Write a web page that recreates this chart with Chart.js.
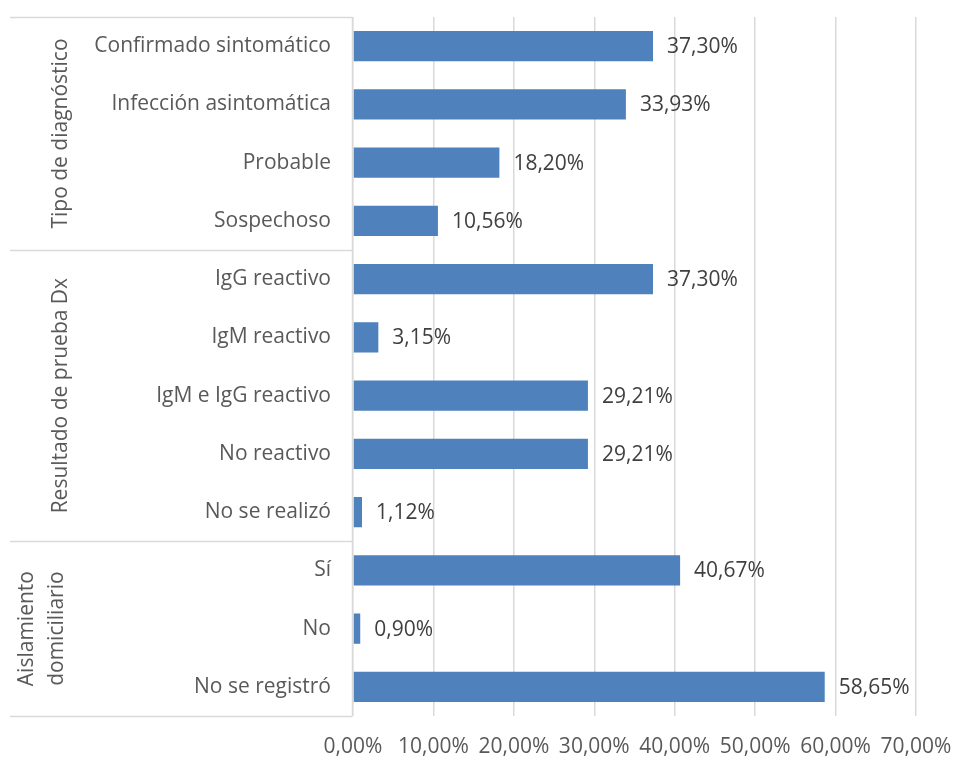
<!DOCTYPE html>
<html lang="es">
<head>
<meta charset="utf-8">
<script src="https://cdn.jsdelivr.net/npm/chart.js@4/dist/chart.umd.min.js"></script>
<style>
  html, body { margin: 0; padding: 0; background: #ffffff; }
  #wrap { position: relative; width: 957px; height: 758px; }
</style>
</head>
<body>
<div id="wrap"><canvas id="chart" width="957" height="758"></canvas></div>
<script>
// Categories (top to bottom) and their percentage values
const categories = [
  'Confirmado sintomático', 'Infección asintomática', 'Probable', 'Sospechoso',
  'IgG reactivo', 'IgM reactivo', 'IgM e IgG reactivo', 'No reactivo', 'No se realizó',
  'Sí', 'No', 'No se registró'
];
const values = [37.30, 33.93, 18.20, 10.56, 37.30, 3.15, 29.21, 29.21, 1.12, 40.67, 0.90, 58.65];

// Outer grouping of the categories
const groupNames = [['Tipo de diagnóstico'], ['Resultado de prueba Dx'], ['Aislamiento', 'domiciliario']];
const groupSizes = [4, 5, 3];

// Value axis ticks
const tickValues = [0, 10, 20, 30, 40, 50, 60, 70];

const FONT = '"Open Sans", "Noto Sans", sans-serif';
const FONT_SIZE = 21;
const LABEL_COLOR = '#595959';
const VALUE_COLOR = '#404040';
const LINE_COLOR = '#d9d9d9';

const fmtPct = v => v.toFixed(2).replace('.', ',') + '%';

// Value labels at the end of each bar
const valueLabels = {
  id: 'valueLabels',
  afterDatasetsDraw(chart) {
    const ctx = chart.ctx;
    const meta = chart.getDatasetMeta(0);
    ctx.save();
    ctx.font = `${FONT_SIZE}px ${FONT}`;
    ctx.fillStyle = VALUE_COLOR;
    ctx.textAlign = 'left';
    ctx.textBaseline = 'middle';
    meta.data.forEach((bar, i) => {
      ctx.fillText(fmtPct(values[i]), bar.x + 14, bar.y + 1);
    });
    ctx.restore();
  }
};

// Group boxes and rotated group titles on the category axis
const groupAxis = {
  id: 'groupAxis',
  afterDraw(chart) {
    const ctx = chart.ctx;
    const y = chart.scales.y;
    const band = (y.bottom - y.top) / categories.length;
    const left = 10;
    const right = chart.chartArea.left - 0.5;
    ctx.save();
    ctx.strokeStyle = LINE_COLOR;
    ctx.lineWidth = 1.5;
    const bounds = [0];
    groupSizes.forEach(n => bounds.push(bounds[bounds.length - 1] + n));
    bounds.forEach(k => {
      const py = Math.round(y.top + k * band) + 0.5;
      ctx.beginPath();
      ctx.moveTo(left, py);
      ctx.lineTo(right, py);
      ctx.stroke();
    });
    ctx.beginPath();
    ctx.moveTo(right, y.top);
    ctx.lineTo(right, y.bottom);
    ctx.stroke();

    ctx.font = `${FONT_SIZE}px ${FONT}`;
    ctx.fillStyle = LABEL_COLOR;
    ctx.textAlign = 'center';
    ctx.textBaseline = 'middle';
    const lineGap = 30;
    groupNames.forEach((lines, g) => {
      const cy = y.top + (bounds[g] + bounds[g + 1]) / 2 * band;
      const cx = lines.length === 1 ? 61 : 27;
      lines.forEach((txt, j) => {
        ctx.save();
        ctx.translate(cx + j * lineGap, cy);
        ctx.rotate(-Math.PI / 2);
        ctx.fillText(txt, 0, 0);
        ctx.restore();
      });
    });
    ctx.restore();
  }
};

new Chart(document.getElementById('chart'), {
  type: 'bar',
  data: {
    labels: categories,
    datasets: [{
      data: values,
      backgroundColor: '#4f81bd',
      borderWidth: 0,
      barPercentage: 0.52,
      categoryPercentage: 1.0
    }]
  },
  options: {
    indexAxis: 'y',
    responsive: false,
    animation: false,
    layout: { padding: { top: 17, right: 41, left: 0, bottom: 0 } },
    plugins: {
      legend: { display: false },
      tooltip: { enabled: false }
    },
    scales: {
      x: {
        min: 0,
        max: 70,
        afterBuildTicks(scale) {
          scale.ticks = tickValues.map(v => ({ value: v }));
        },
        afterFit(scale) {
          scale.height = 42;
          scale.paddingLeft = 0;
          scale.paddingRight = 0;
        },
        grid: { color: LINE_COLOR, lineWidth: 1.5, drawTicks: false },
        border: { display: false },
        ticks: {
          padding: 18,
          color: LABEL_COLOR,
          font: { family: FONT, size: FONT_SIZE },
          maxRotation: 0,
          callback: v => fmtPct(v)
        }
      },
      y: {
        afterFit(scale) {
          scale.width = 353;
          scale.paddingTop = 0;
          scale.paddingBottom = 0;
        },
        grid: { display: false, drawTicks: false },
        border: { display: false },
        ticks: {
          padding: 22,
          color: LABEL_COLOR,
          font: { family: FONT, size: FONT_SIZE },
          autoSkip: false
        }
      }
    }
  },
  plugins: [valueLabels, groupAxis]
});
</script>
</body>
</html>
